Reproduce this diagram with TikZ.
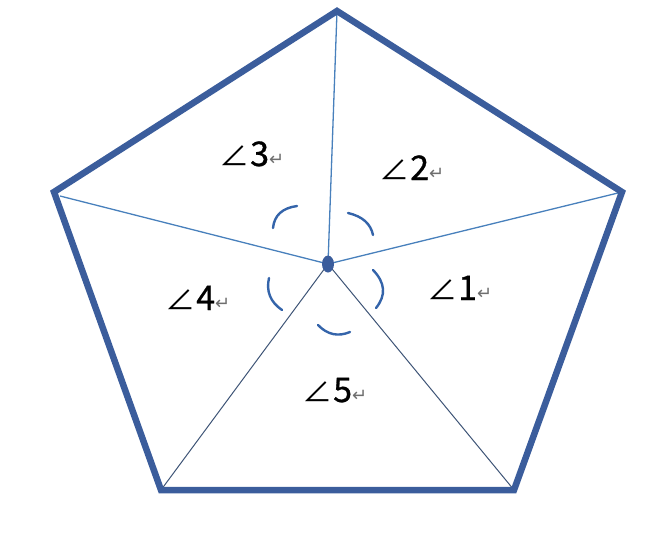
\documentclass[tikz,border=0pt]{standalone}
\usepackage{fontspec}
\usetikzlibrary{shapes.geometric}
\setmainfont{Liberation Sans}
\newfontfamily\djv{DejaVu Sans}
\newfontfamily\cjkf{Noto Sans CJK SC}
\newfontfamily\cjkd[FakeBold=0.8]{Noto Sans CJK SC}
\definecolor{pent}{RGB}{59,93,156}
\definecolor{spoke}{RGB}{72,128,188}
\definecolor{spokedark}{RGB}{62,84,118}
\definecolor{arcc}{RGB}{52,100,170}
\definecolor{retc}{RGB}{110,110,110}
\tikzset{
  pentline/.style={draw=pent,line width=6.5pt,line join=miter},
  spokeline/.style={draw=spoke,line width=1.3pt},
  spokedk/.style={draw=spokedark,line width=1pt},
  arcline/.style={draw=arcc,line width=2.4pt,line cap=round},
  lbl/.style={anchor=base west,inner sep=0pt,font=\cjkf\fontsize{30}{30}\selectfont}
}
\newcommand{\anglab}[1]{∠\hspace{1pt}{\cjkd\fontsize{34}{34}\selectfont #1}{\color{retc}\djv\fontsize{18}{18}\selectfont\raisebox{1pt}{↵}}}
\begin{document}
\begin{tikzpicture}[x=1pt,y=-1pt]
\useasboundingbox (0,0) rectangle (670,544);
\coordinate (T) at (337,11);
\coordinate (R) at (622,192);
\coordinate (BR) at (514,490);
\coordinate (BL) at (161,490);
\coordinate (L) at (54,192);
\coordinate (O) at (328,264);
% spokes
\draw[spokeline] (O) -- (T);
\draw[spokeline] (O) -- (R);
\draw[spokeline] (O) -- (60,196);
\draw[spokedk] (O) -- (BL);
\draw[spokedk] (O) -- (BR);
% pentagon
\draw[pentline] (T) -- (R) -- (BR) -- (BL) -- (L) -- cycle;
% centre dot
\node[ellipse,fill=pent,minimum width=12pt,minimum height=17pt,inner sep=0pt] (dot) at (O) {};
% angle arcs
\draw[arcline] (273,228) .. controls (274.3,215.3) and (282.3,208) .. (297,206);
\draw[arcline] (348,213) .. controls (362.3,216.3) and (370.7,223.7) .. (373,235);
\draw[arcline] (373,270) .. controls (385.3,282.7) and (386.3,295.3) .. (376,308);
\draw[arcline] (318,325) .. controls (327.3,334.7) and (338,337) .. (350,332);
\draw[arcline] (269,278) .. controls (266,291.3) and (270.3,302) .. (282,310);
% labels
\node[lbl] (a3) at (219,166) {\anglab{3}};
\node[lbl] (a2) at (379,180) {\anglab{2}};
\node[lbl] (a1) at (427,300) {\anglab{1}};
\node[lbl] (a5) at (302,402) {\anglab{5}};
\node[lbl] (a4) at (165,310) {\anglab{4}};
\end{tikzpicture}
\end{document}
